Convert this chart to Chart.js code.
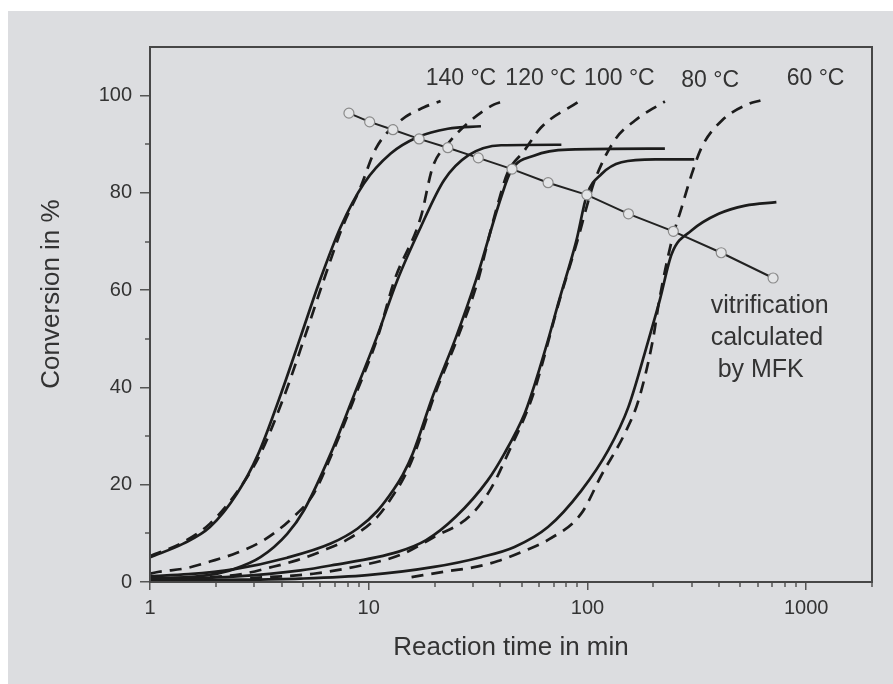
<!DOCTYPE html>
<html>
<head>
<meta charset="utf-8">
<script src="https://cdn.jsdelivr.net/npm/chart.js@4.4.1/dist/chart.umd.min.js"></script>
<style>
  html, body { margin: 0; padding: 0; background: #fff; }
  #panel { position: absolute; left: 8px; top: 11px; width: 885px; height: 673px; background: #dcdde0; }
  canvas { display: block; }
</style>
</head>
<body>
<div id="panel"><canvas id="cure" width="885" height="673"></canvas></div>
<script>
// reaction time in min (log axis) / conversion in %
const solid140X = [1, 1.42, 1.88, 2.5, 3.13, 3.95, 4.88, 5.98, 7.44, 9.49, 12.6, 16.8, 23, 32.6];
const solid140Y = [5.1, 7.9, 11.3, 18.2, 26.4, 38.4, 50.4, 62, 73, 81.9, 88.1, 91.5, 93.2, 93.7];
const solid120X = [1, 1.5, 1.9, 2.4, 3.2, 4.24, 5.05, 6.7, 8.56, 10.9, 13.5, 17.3, 22.1, 28.5, 40.3, 76];
const solid120Y = [0.8, 1.0, 1.5, 2.6, 5.1, 9.9, 14.7, 26.4, 38.4, 50.4, 62, 73, 82.6, 87.7, 89.8, 89.9];
const solid100X = [1, 1.5, 2.4, 4.24, 6.7, 8.9, 11.0, 13.0, 14.3, 15.9, 19.7, 25.1, 30.9, 40.3, 44.8, 57.3, 81.5, 226];
const solid100Y = [1.2, 1.6, 2.6, 5.0, 7.9, 11, 14.7, 19, 22, 26.4, 38.4, 50.4, 62, 79.1, 84.6, 87.7, 88.9, 89.1];
const solid80X = [1, 1.5, 2.4, 4.88, 6.7, 13.6, 18.3, 25, 35, 41.7, 51.6, 55.3, 66, 74.2, 89, 99.4, 116, 143, 204, 308];
const solid80Y = [0.5, 0.7, 1.1, 2.4, 3.4, 6.2, 8.6, 13.4, 20.9, 26.4, 34.6, 38.4, 49.7, 57.9, 70.2, 79.6, 83.9, 86.3, 86.9, 86.9];
const solid60X = [1, 2, 4.88, 9.86, 19.9, 32.6, 46.4, 66, 93.8, 124.5, 154, 190, 214, 243, 300, 398, 527, 731];
const solid60Y = [0.2, 0.4, 0.7, 1.4, 3.1, 5.1, 7.2, 11.3, 18.8, 27.1, 36, 49.7, 57.9, 67.5, 72.3, 75.7, 77.4, 78.1];

const dashed140X = [1, 1.42, 1.88, 2.5, 3.2, 4.12, 5.1, 6.22, 7.59, 9.18, 10.77, 14.0, 17.9, 21.3];
const dashed140Y = [5.3, 8.2, 12, 18.5, 26.4, 38.4, 50.4, 62, 73, 81.2, 89.1, 94.9, 97.6, 98.9];
const dashed120X = [1, 1.1, 1.45, 1.88, 2.5, 3.31, 4.38, 5.61, 6.8, 8.7, 11.0, 13.1, 17.3, 19.6, 23.0, 29.3, 37.5, 40.3];
const dashed120Y = [1.7, 2.1, 2.8, 4.2, 6.0, 8.6, 12.8, 18.2, 26.4, 38.4, 50.4, 62, 75, 85.3, 90.1, 94.9, 98.2, 98.7];
const dashed100X = [1, 2.59, 3.55, 4.72, 6.22, 8.19, 11.0, 13.0, 14.5, 16.2, 20.0, 25.6, 31.6, 35.5, 39.1, 43.0, 51.5, 61.5, 90.6];
const dashed100Y = [0.6, 1.6, 3.0, 4.5, 6.5, 9.0, 13.5, 18, 21.5, 26.4, 38.4, 50.4, 62, 71, 78, 84, 88.7, 93.5, 98.7];
const dashed80X = [2.87, 5.59, 9.47, 14.0, 19.8, 28.9, 36.2, 43.3, 56.3, 74.5, 90.0, 101.9, 108, 133, 165, 226];
const dashed80Y = [0.8, 1.7, 3.5, 5.6, 9.2, 13.5, 19.2, 26.4, 38.4, 57.9, 70.2, 79, 82.6, 90.8, 94.9, 98.8];
const dashed60X = [15.7, 22.7, 30.0, 39.0, 52.1, 66.9, 93.8, 116, 148, 171, 199, 213, 243, 270, 300, 333, 412, 546, 618];
const dashed60Y = [1.0, 2.2, 3.0, 4.3, 6.5, 8.8, 14.1, 22, 30.5, 37.3, 49.7, 57.9, 70.2, 77.1, 83.9, 89.4, 94.9, 98.3, 99];

const vitrX = [8.12, 10.1, 12.9, 17.0, 23.0, 31.7, 45.2, 66.1, 99.4, 154, 247, 409, 706];
const vitrY = [96.4, 94.6, 93.0, 91.1, 89.3, 87.2, 84.9, 82.1, 79.6, 75.7, 72.1, 67.7, 62.5];

const xMajorTicks = [1, 10, 100, 1000];
const xMinorTicks = [2, 3, 4, 5, 6, 7, 8, 9, 20, 30, 40, 50, 60, 70, 80, 90, 200, 300, 400, 500, 600, 700, 800, 900, 2000];
const yMajorTicks = [0, 20, 40, 60, 80, 100];
const yMinorTicks = [10, 30, 50, 70, 90];

const tempLabels = ['140 °C', '120 °C', '100 °C', '80 °C', '60 °C'];
const vitrLabel = ['vitrification', 'calculated', ' by MFK'];

// where the annotations sit, in data units
const tempAnchorX = [26.4, 61.1, 140, 364, 1104];
const tempAnchorY = [103.5, 103.5, 103.5, 103.1, 103.4];
const vitrAnchor = { x: 366, y: [56.8, 50.1, 43.5] };

const FONT = '"Liberation Sans", Arial, sans-serif';
const INK = '#333333';

function pts(xs, ys) {
  return xs.map((x, i) => ({ x: x, y: ys[i] }));
}

function curve(xs, ys, dashed) {
  return {
    data: pts(xs, ys),
    borderColor: '#1c1c1c',
    borderWidth: 2.7,
    borderDash: dashed ? [12, 8] : [],
    pointRadius: 0,
    cubicInterpolationMode: 'monotone',
    fill: false
  };
}

const extras = {
  id: 'extras',
  afterDraw(chart) {
    const ctx = chart.ctx;
    const a = chart.chartArea;
    const x = chart.scales.x;
    const y = chart.scales.y;
    ctx.save();

    ctx.strokeStyle = '#555';
    ctx.lineWidth = 1.5;
    ctx.beginPath();
    xMinorTicks.forEach(v => {
      const px = Math.round(x.getPixelForValue(v));
      ctx.moveTo(px, a.bottom);
      ctx.lineTo(px, a.bottom + 5);
    });
    yMinorTicks.forEach(v => {
      const py = Math.round(y.getPixelForValue(v));
      ctx.moveTo(a.left, py);
      ctx.lineTo(a.left - 5, py);
    });
    ctx.stroke();

    ctx.strokeStyle = '#474747';
    ctx.lineWidth = 2;
    ctx.strokeRect(a.left, a.top, a.right - a.left, a.bottom - a.top);

    ctx.fillStyle = INK;
    ctx.textBaseline = 'middle';
    ctx.textAlign = 'center';
    ctx.font = '23px ' + FONT;
    tempLabels.forEach((t, i) => {
      ctx.fillText(t, x.getPixelForValue(tempAnchorX[i]), y.getPixelForValue(tempAnchorY[i]));
    });

    ctx.textAlign = 'left';
    ctx.font = '25px ' + FONT;
    vitrLabel.forEach((t, i) => {
      ctx.fillText(t, x.getPixelForValue(vitrAnchor.x), y.getPixelForValue(vitrAnchor.y[i]));
    });

    // y axis title, sits a little above the axis centre
    ctx.translate(44, 283);
    ctx.rotate(-Math.PI / 2);
    ctx.textAlign = 'center';
    ctx.font = '26px ' + FONT;
    ctx.fillText('Conversion in %', 0, 0);

    ctx.restore();
  }
};

new Chart(document.getElementById('cure'), {
  type: 'line',
  data: {
    datasets: [
      {
        data: pts(vitrX, vitrY),
        borderColor: '#222',
        borderWidth: 2,
        tension: 0,
        pointRadius: 5,
        pointBackgroundColor: '#e3e4e6',
        pointBorderColor: '#8a8a8a',
        pointBorderWidth: 1.2,
        fill: false
      },
      curve(solid140X, solid140Y, false),
      curve(solid120X, solid120Y, false),
      curve(solid100X, solid100Y, false),
      curve(solid80X, solid80Y, false),
      curve(solid60X, solid60Y, false),
      curve(dashed140X, dashed140Y, true),
      curve(dashed120X, dashed120Y, true),
      curve(dashed100X, dashed100Y, true),
      curve(dashed80X, dashed80Y, true),
      curve(dashed60X, dashed60Y, true)
    ]
  },
  options: {
    responsive: false,
    animation: false,
    devicePixelRatio: 1,
    events: [],
    layout: { padding: { left: 0, right: 21, top: 36, bottom: 0 } },
    plugins: {
      legend: { display: false },
      tooltip: { enabled: false }
    },
    scales: {
      x: {
        type: 'logarithmic',
        min: 1,
        max: 2000,
        afterBuildTicks: axis => { axis.ticks = xMajorTicks.map(v => ({ value: v })); },
        afterFit: axis => { axis.height = 102; },
        border: { display: false },
        grid: { drawOnChartArea: false, drawTicks: true, tickLength: 8, color: '#555', lineWidth: 1.5 },
        ticks: {
          autoSkip: false,
          maxRotation: 0,
          padding: 6,
          color: INK,
          font: { family: FONT, size: 20 },
          callback: v => String(v)
        },
        title: {
          display: true,
          text: 'Reaction time in min',
          color: INK,
          font: { family: FONT, size: 26 },
          padding: { top: 0, bottom: 21 }
        }
      },
      y: {
        min: 0,
        max: 110,
        afterBuildTicks: axis => { axis.ticks = yMajorTicks.map(v => ({ value: v })); },
        afterFit: axis => { axis.width = 142; },
        border: { display: false },
        grid: { drawOnChartArea: false, drawTicks: true, tickLength: 10, color: '#555', lineWidth: 1.5 },
        ticks: {
          padding: 8,
          color: INK,
          font: { family: FONT, size: 20 },
          callback: v => String(v)
        }
      }
    }
  },
  plugins: [extras]
});
</script>
</body>
</html>
